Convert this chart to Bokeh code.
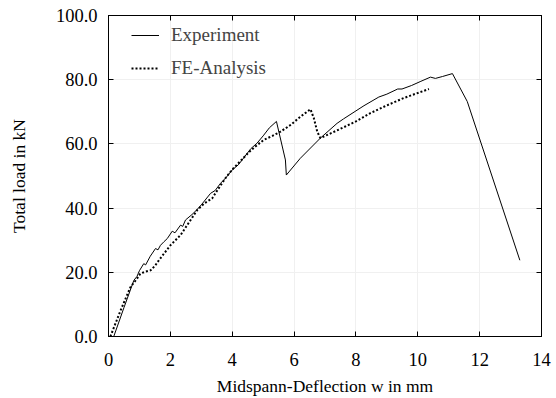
from bokeh.plotting import figure
from bokeh.models import LinearAxis, FixedTicker, Legend, LegendItem, CustomJSTickFormatter
from bokeh.embed import file_html
from bokeh.resources import INLINE

# Experiment (solid)
exp_w = [0.17, 0.5, 0.82, 0.92, 1.0, 1.14, 1.2, 1.35, 1.52, 1.6, 1.68, 1.79, 1.9, 2.06, 2.15, 2.33, 2.4, 2.49, 2.7, 2.87,
         3.0, 3.3, 3.45, 3.62, 3.8, 4.0, 4.2, 4.4, 4.6, 4.8, 5.0, 5.2, 5.43, 5.72, 5.75,
         6.2, 6.85, 7.39, 7.6, 8.26, 8.74, 9.0, 9.35, 9.49, 9.8, 10.1, 10.41, 10.57, 10.8, 11.12, 11.6, 13.3]
exp_P = [0.0, 9.0, 17.5, 18.7, 20.5, 22.7, 22.3, 25.0, 27.4, 27.0, 28.4, 29.5, 30.5, 32.8, 32.3, 34.7, 34.3, 36.3, 38.0, 39.6,
         41.0, 44.6, 45.5, 47.7, 49.5, 51.9, 53.5, 56.0, 58.5, 60.2, 62.5, 65.0, 67.0, 55.0, 50.3,
         55.5, 61.8, 66.4, 67.8, 71.9, 74.6, 75.5, 77.1, 77.1, 78.2, 79.5, 80.8, 80.4, 81.0, 81.9, 73.2, 23.75]

# FE-Analysis (dotted)
fe_w = [0.06, 0.39, 0.71, 0.92, 1.03, 1.2, 1.36, 1.5, 1.63, 2.0, 2.33, 2.6, 2.87, 3.1, 3.35, 3.55, 3.78, 4.0,
        4.3, 4.55, 4.75, 5.02, 5.3, 5.56, 5.9, 6.21, 6.53, 6.64, 6.75, 6.85, 7.39, 8.0, 8.47, 9.0, 9.55, 10.36]
fe_P = [0.0, 8.1, 15.4, 18.0, 19.6, 20.2, 20.6, 22.0, 23.75, 28.4, 31.6, 35.5, 39.4, 41.5, 43.0, 46.0, 49.3, 52.0,
        55.0, 57.5, 59.2, 61.25, 62.5, 63.8, 66.0, 68.5, 70.8, 68.0, 63.8, 61.8, 64.2, 67.0, 69.6, 72.0, 74.3, 77.1]

x_ticks = [0, 2, 4, 6, 8, 10, 12, 14]
y_ticks = [0, 20, 40, 60, 80, 100]

FONT = "Liberation Serif"

p = figure(width=556, height=398, x_range=(0, 14), y_range=(0, 100),
           output_backend="svg", toolbar_location=None,
           min_border_left=108, min_border_right=15, min_border_top=15, min_border_bottom=62,
           x_axis_label="Midspann-Deflection w in mm", y_axis_label="Total load in kN")
p.background_fill_color = "white"
p.border_fill_color = "white"
p.outline_line_color = "black"
p.outline_line_width = 1

r1 = p.line(exp_w, exp_P, line_color="black", line_width=1)
r2 = p.line(fe_w, fe_P, line_color="black", line_width=2, line_dash="2 2")

for ax in [p.xaxis[0], p.yaxis[0]]:
    ax.major_tick_in = 5
    ax.major_tick_out = 0
    ax.minor_tick_in = 0
    ax.minor_tick_out = 0
    ax.axis_line_color = "black"
    ax.major_label_text_font = FONT
    ax.major_label_text_font_size = "18.5px"
    ax.major_label_text_color = "black"
    ax.axis_label_text_font = FONT
    ax.axis_label_text_font_size = "17.5px"
    ax.axis_label_text_font_style = "normal"
    ax.axis_label_text_color = "black"

p.xaxis[0].ticker = FixedTicker(ticks=x_ticks)
p.yaxis[0].ticker = FixedTicker(ticks=y_ticks)
p.yaxis[0].formatter = CustomJSTickFormatter(code="return tick.toFixed(1);")
p.xaxis[0].major_label_standoff = 16
p.xaxis[0].axis_label_standoff = 7
p.yaxis[0].major_label_standoff = 11
p.yaxis[0].axis_label_standoff = 24

right = LinearAxis(ticker=FixedTicker(ticks=y_ticks), major_tick_in=5, major_tick_out=0,
                   minor_tick_in=0, minor_tick_out=0, major_label_text_font_size="0px",
                   major_label_standoff=0)
top = LinearAxis(ticker=FixedTicker(ticks=x_ticks), major_tick_in=5, major_tick_out=0,
                 minor_tick_in=0, minor_tick_out=0, major_label_text_font_size="0px",
                 major_label_standoff=0)
p.add_layout(right, "right")
p.add_layout(top, "above")

p.grid.grid_line_color = "#f0f0f0"
p.xgrid.ticker = FixedTicker(ticks=x_ticks)
p.ygrid.ticker = FixedTicker(ticks=y_ticks)

legend = Legend(items=[LegendItem(label="Experiment", renderers=[r1]),
                       LegendItem(label="FE-Analysis", renderers=[r2])],
                location=(23, 257))
legend.border_line_color = None
legend.background_fill_alpha = 0
legend.label_text_font = FONT
legend.label_text_font_size = "19px"
legend.glyph_width = 28
legend.label_standoff = 12
legend.spacing = 11
legend.margin = 0
legend.padding = 8
p.add_layout(legend)

open("out.html", "w").write(file_html(p, INLINE))
